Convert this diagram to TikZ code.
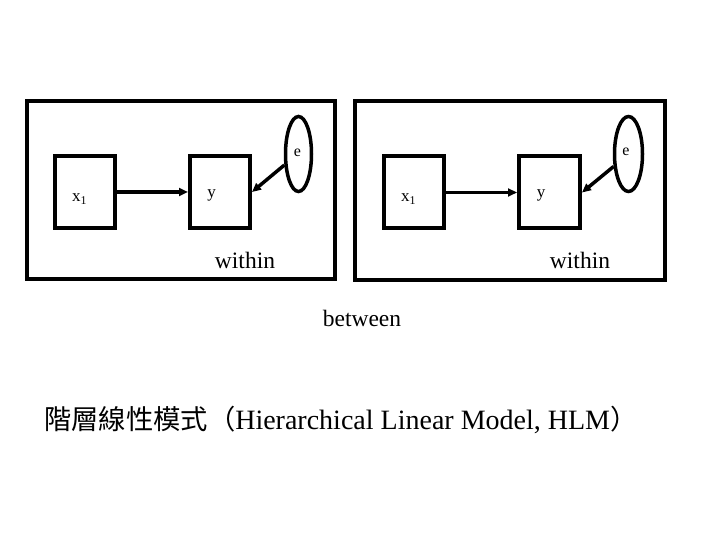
\documentclass[tikz,border=0pt]{standalone}
\usepackage{fontspec}
\setmainfont{Liberation Serif}
\newfontfamily\cjk{Noto Sans CJK TC}
\usetikzlibrary{shapes.geometric,arrows.meta}
\begin{document}
\begin{tikzpicture}[x=1pt,y=-1pt,
 frame/.style={draw,line width=4pt,inner sep=0pt},
 var/.style={draw,line width=4pt,minimum width=60pt,minimum height=72pt,inner sep=0pt},
 err/.style={draw,ellipse,line width=3.5pt,inner sep=0pt,minimum height=75pt},
 lab/.style={inner sep=0pt,font=\fontsize{17}{20}\selectfont},
 big/.style={inner sep=0pt,font=\fontsize{23.5}{28}\selectfont},
 link/.style={line width=3.5pt,-{Triangle[length=9pt,width=8pt]}}]
\useasboundingbox (0,0) rectangle (720,540);
% left panel
\node[frame,minimum width=308pt,minimum height=178pt] (L) at (181,190) {};
\node[var] (xL) at (85,192) {};
\node[var] (yL) at (220,192) {};
\node[err,minimum width=26pt] (eL) at (298.5,154) {};
\node[lab,anchor=base] (xLt) at (79.5,202) {x\textsubscript{1}};
\node[lab,anchor=base] (yLt) at (211.5,198) {y};
\node[lab,anchor=base,font=\fontsize{16}{18}\selectfont] (eLt) at (297.5,157) {e};
\node[big,anchor=base] (wL) at (245,268) {within};
\draw[link] (xL.east) -- (yL.west);
\draw[link] (eL.218) -- (yL.east);
% right panel
\node[frame,minimum width=310pt,minimum height=179pt] (R) at (510,190.5) {};
\node[var] (xR) at (414,192.5) {};
\node[var,minimum width=61pt] (yR) at (549.5,192.5) {};
\node[err,minimum width=28pt] (eR) at (628.5,154) {};
\node[lab,anchor=base] (xRt) at (408.5,202) {x\textsubscript{1}};
\node[lab,anchor=base] (yRt) at (541,198) {y};
\node[lab,anchor=base,font=\fontsize{16}{18}\selectfont] (eRt) at (626,156) {e};
\node[big,anchor=base] (wR) at (580,268) {within};
\draw[link] (xR.east) -- (yR.west);
\draw[link] (eR.220) -- (yR.east);
% between and title
\node[big,anchor=base] (btw) at (362,326) {between};
\node[anchor=base west,inner sep=0pt] (title) at (44,429)
 {{\cjk\fontsize{27.3}{32}\selectfont 階層線性模式（}{\fontsize{28}{32}\selectfont Hierarchical Linear Model, HLM}{\cjk\fontsize{27.3}{32}\selectfont ）}};
\end{tikzpicture}
\end{document}
